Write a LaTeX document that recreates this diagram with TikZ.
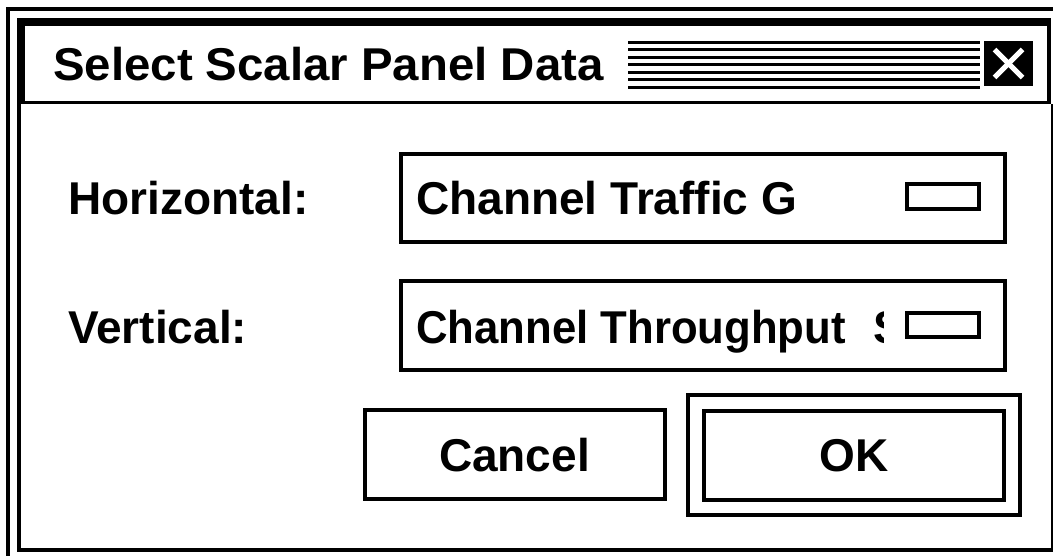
\documentclass[tikz,border=0pt]{standalone}
\usepackage{fontspec}
\usepackage{graphicx}
\setmainfont{Liberation Sans}

\tikzset{
    guitext/.style={font=\fontsize{46}{55}\selectfont\bfseries, inner sep=0pt},
    labeltext/.style={guitext, anchor=base west},
    framebox/.style={draw, line width=4pt, inner sep=0pt},
    button/.style={framebox, guitext, minimum width=300pt, minimum height=89pt, text height=33pt, text depth=0pt},
}

\begin{document}
\begin{tikzpicture}[x=1pt, y=-1pt]

    \useasboundingbox (0,0) rectangle (1053,556);
    \fill[white] (0,0) rectangle (1053,556);

    \draw[line width=4pt] (8,556) -- (8,9) -- (1053,9);

    \fill (17,18) rectangle (1051,104);
    \fill[white] (25,26) rectangle (1047,101);
    \node[labeltext] (title) at (53,81) {\scalebox{1.03}[1]{Select Scalar Panel Data}};
    \foreach \i in {0,...,6}
        \fill (628,{41+7.5*\i}) rectangle (980,{44+7.5*\i});
    \node[fill, minimum width=49pt, minimum height=45pt, inner sep=0pt] (close) at (1008.5,63.5) {};
    \draw[white, line width=5pt] ([shift={(-14,-14)}]close.center) -- ([shift={(14,14)}]close.center);
    \draw[white, line width=5pt] ([shift={(14,-14)}]close.center) -- ([shift={(-14,14)}]close.center);

    \fill (17,104) rectangle (21,552);
    \fill (17,548) rectangle (1053,552);
    \fill (1051,104) rectangle (1053,552);

    \node[labeltext] (hlabel) at (68,215) {Horizontal:};
    \node[labeltext] (vlabel) at (68,343) {Vertical:};

    \node[framebox, minimum width=604pt, minimum height=88pt] (hfield) at (703,198) {};
    \node[framebox, minimum width=604pt, minimum height=89pt] (vfield) at (703,325.5) {};
    \node[framebox, line width=3.5pt, minimum width=72pt, minimum height=25pt] (htoggle) at (943,196.5) {};
    \node[framebox, line width=3.5pt, minimum width=72pt, minimum height=24pt] (vtoggle) at (943,325) {};

    \node[labeltext] (htext) at (416,215) {Channel Traffic G};
    \begin{scope}
        \clip (403,283) rectangle (883,368);
        \node[labeltext] (vtext) at (416,343) {\scalebox{0.95}[1]{Channel Throughput}\hspace{28pt}S};
    \end{scope}

    \node[button] (cancel) at (514.5,454.75) {Cancel};
    \node[framebox, minimum width=332pt, minimum height=120pt] (okframe) at (854,455) {};
    \node[button] (ok) at (okframe.center) {OK};

\end{tikzpicture}
\end{document}
